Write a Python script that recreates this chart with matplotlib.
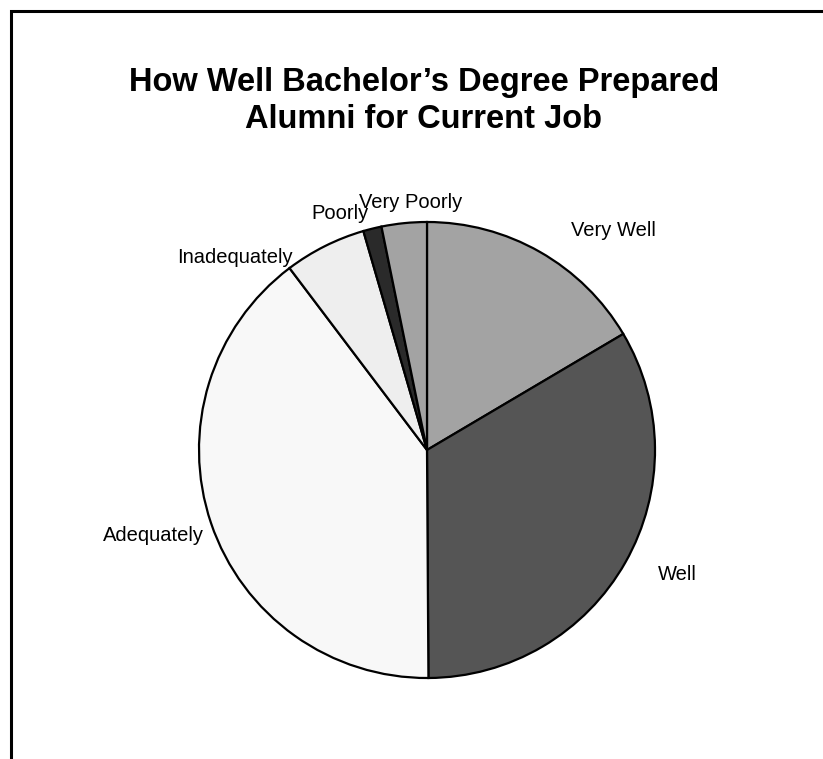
import matplotlib
matplotlib.use('Agg')
import matplotlib.pyplot as plt
import matplotlib.patches as patches
import numpy as np

plt.rcParams['font.family'] = ['Liberation Sans', 'DejaVu Sans']

# share of alumni, clockwise from 12 o'clock
labels = ['Very Well', 'Well', 'Adequately', 'Inadequately', 'Poorly', 'Very Poorly']
values = [16.5, 33.4, 39.8, 5.8, 1.3, 3.2]
colors = ['#a3a3a3', '#555555', '#f8f8f8', '#eeeeee', '#2a2a2a', '#a3a3a3']

# label placement (radius factor, angle shift in degrees, alignment)
lab_r = [1.15, 1.15, 1.05, 1.03, 1.07, 1.09]
lab_dt = [-3.5, 1.2, 2.3, 8.3, 0.0, -2.0]
lab_ha = ['left', 'left', 'right', 'right', 'right', 'center']

W, H = 823, 759
fig = plt.figure(figsize=(W / 100, H / 100), dpi=100)

# frame around the chart area (cut off at right and bottom)
fig.patches.append(patches.Rectangle((10.5 / W, -0.1), 1.2, 1 - 10.5 / H + 0.1,
                                     transform=fig.transFigure, fill=False,
                                     edgecolor='black', linewidth=2.2))

fig.text(0.515, 1 - 101 / H, 'How Well Bachelor\u2019s Degree Prepared\nAlumni for Current Job',
         ha='center', va='center', fontsize=23.5, fontweight='bold', linespacing=1.25)

cx, cy, R = 427, 450, 228
pad = 1.02
ax = fig.add_axes([(cx - R * pad) / W, (H - cy - R * pad) / H, 2 * R * pad / W, 2 * R * pad / H])
wedges, _ = ax.pie(values, colors=colors, startangle=90, counterclock=False,
                   wedgeprops=dict(edgecolor='black', linewidth=1.6))
ax.set_xlim(-pad, pad)
ax.set_ylim(-pad, pad)
ax.set_aspect('equal')
ax.axis('off')

for w, lab, r, dt, ha in zip(wedges, labels, lab_r, lab_dt, lab_ha):
    th = np.deg2rad((w.theta1 + w.theta2) / 2 + dt)
    ax.text(r * np.cos(th), r * np.sin(th), lab, ha=ha, va='center', fontsize=14.5)

fig.savefig('out.png', dpi=100)
